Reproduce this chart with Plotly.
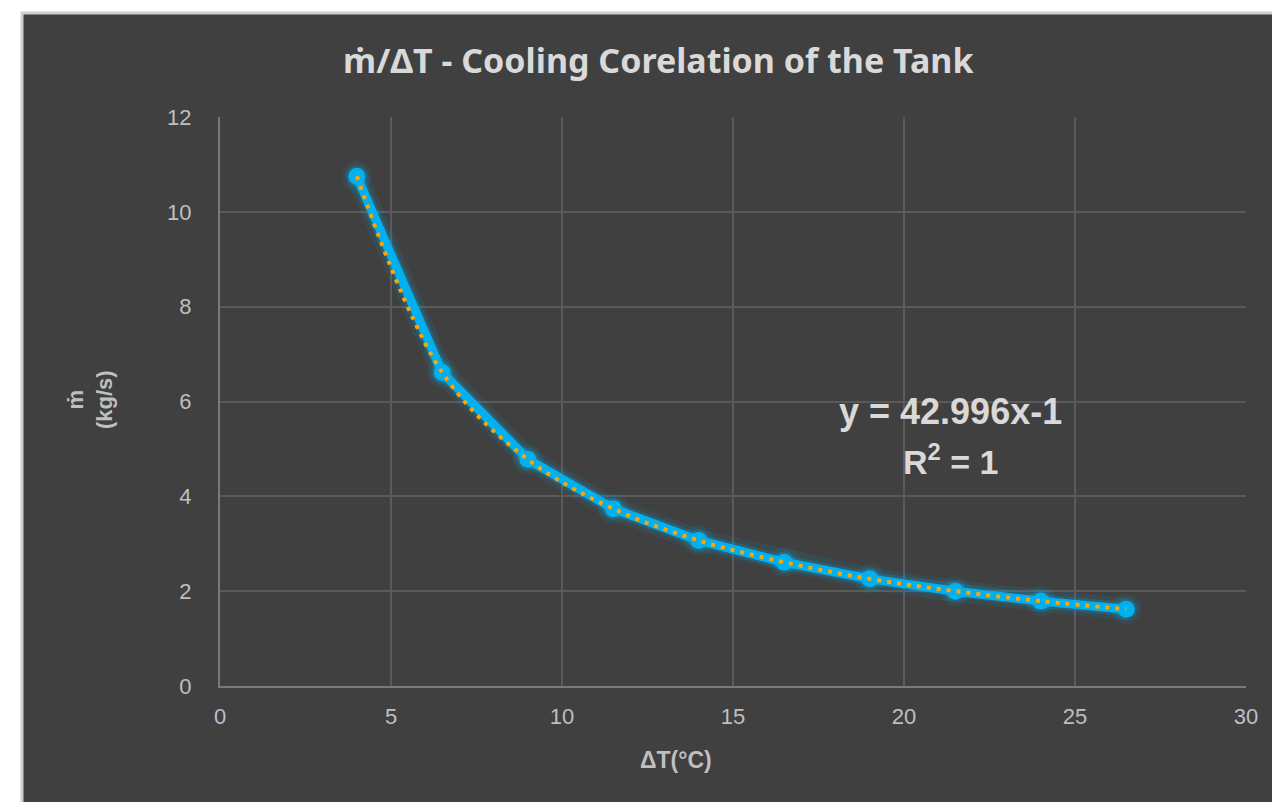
import plotly.graph_objects as go

# Data
delta_t = [4, 6.5, 9, 11.5, 14, 16.5, 19, 21.5, 24, 26.5]
m_dot = [10.75, 6.61, 4.78, 3.74, 3.07, 2.61, 2.26, 2.00, 1.79, 1.62]

x_ticks = [0, 5, 10, 15, 20, 25, 30]
y_ticks = [0, 2, 4, 6, 8, 10, 12]

title_text = "ṁ/ΔT - Cooling Corelation of the Tank"
x_title = "ΔT(°C)"
y_title = "ṁ<br>(kg/s)"
eq_line1 = "y = 42.996x-1"
eq_line2 = "R<sup>2</sup> = 1"

W, H = 1272, 802
L, R, T, B = 220, 1246, 117, 686

def px(xpix):
    return (xpix - L) / (R - L)

def py(ypix):
    return (B - ypix) / (B - T)

BG = "#404040"
BLUE = "#00B0F0"
ORANGE = "#FFA500"
TXT = "#D9D9D9"
TICK = "#BFBFBF"

fig = go.Figure()

# glow layers
fig.add_trace(go.Scatter(x=delta_t, y=m_dot, mode="lines+markers",
                         line=dict(color="rgba(0,176,240,0.10)", width=22),
                         marker=dict(size=30, color="rgba(0,176,240,0.10)"),
                         hoverinfo="skip", showlegend=False))
fig.add_trace(go.Scatter(x=delta_t, y=m_dot, mode="lines+markers",
                         line=dict(color="rgba(0,176,240,0.20)", width=14),
                         marker=dict(size=22, color="rgba(0,176,240,0.20)"),
                         hoverinfo="skip", showlegend=False))
fig.add_trace(go.Scatter(x=delta_t, y=m_dot, mode="lines+markers",
                         line=dict(color=BLUE, width=9),
                         marker=dict(size=17, color=BLUE),
                         showlegend=False))
# trendline (power fit) drawn smooth through the points
fig.add_trace(go.Scatter(x=delta_t, y=m_dot, mode="lines",
                         line=dict(color=ORANGE, width=4, dash="4px,6px", shape="spline", smoothing=1.0),
                         showlegend=False))

fig.update_layout(
    width=W, height=H,
    margin=dict(l=L, r=W - R, t=T, b=H - B),
    paper_bgcolor="white",
    plot_bgcolor=BG,
    font=dict(family="Liberation Sans, Arial", color=TICK),
    showlegend=False,
)

fig.update_xaxes(range=[0, 30], tickvals=x_ticks, showgrid=True, gridcolor="#5A5A5A", gridwidth=1.5,
                 zeroline=False, showline=True, linecolor="#7A7A7A", linewidth=2,
                 ticks="", tickfont=dict(size=22, color=TICK), ticklabelstandoff=10)
fig.update_yaxes(range=[0, 12], tickvals=y_ticks, showgrid=True, gridcolor="#5A5A5A", gridwidth=1.5,
                 zeroline=False, showline=True, linecolor="#7A7A7A", linewidth=2,
                 ticks="", tickfont=dict(size=22, color=TICK), ticklabelstandoff=22)

# dark chart area with light border
fig.add_shape(type="rect", xref="paper", yref="paper",
              x0=px(22), x1=px(W + 5), y0=py(H + 5), y1=py(13),
              fillcolor=BG, line=dict(color="#CFCFCF", width=3), layer="below")

annotations = [
    dict(text="<b>" + title_text + "</b>", x=px(658), y=py(60), xref="paper", yref="paper",
         xanchor="center", yanchor="middle",
         showarrow=False, font=dict(family="Noto Sans, Open Sans", size=34, color=TXT)),
    dict(text="<b>" + x_title + "</b>", x=px(676), y=py(760), xref="paper", yref="paper",
         xanchor="center", yanchor="middle",
         showarrow=False, font=dict(family="Liberation Sans, Arial", size=23, color=TICK)),
    dict(text="<b>" + y_title + "</b>", x=px(90), y=py(400), xref="paper", yref="paper",
         xanchor="center", yanchor="middle",
         showarrow=False, textangle=-90, font=dict(family="Liberation Sans, Arial", size=22, color=TICK)),
    dict(text="<b>" + eq_line1 + "</b>", x=21.37, y=5.78, xref="x", yref="y",
         xanchor="center", yanchor="middle",
         showarrow=False, font=dict(family="Liberation Sans, Arial", size=36, color=TXT)),
    dict(text="<b>" + eq_line2 + "</b>", x=21.37, y=4.77, xref="x", yref="y",
         xanchor="center", yanchor="middle",
         showarrow=False, font=dict(family="Liberation Sans, Arial", size=34, color=TXT)),
]
fig.update_layout(annotations=annotations)

fig.write_html("out.html")
